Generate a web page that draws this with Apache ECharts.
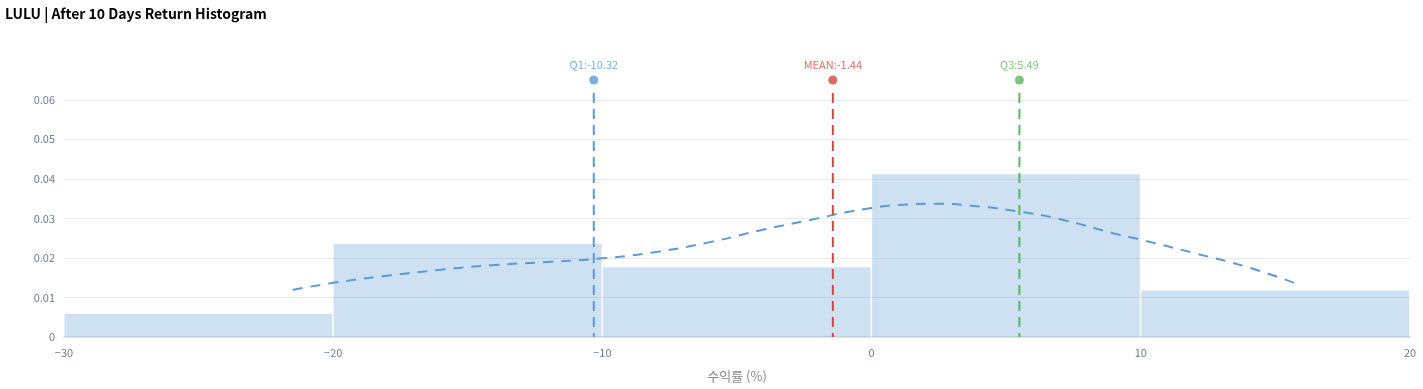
<!DOCTYPE html>
<html><head><meta charset="utf-8">
<script src="https://cdn.jsdelivr.net/npm/echarts@6/dist/echarts.min.js"></script>
<style>html,body{margin:0;padding:0;background:#fff}#c{width:1423px;height:389px}</style>
</head><body><div id="c"></div>
<script>
const title = 'LULU | After 10 Days Return Histogram';
const binStarts = [-30, -20, -10, 0, 10];
const binEnds = [-20, -10, 0, 10, 20];
const density = [0.00588, 0.02353, 0.01765, 0.04118, 0.01176];
const kdeX = [-21.5, -20, -18, -16, -14, -12, -10, -8, -6, -4, -2, -1, 0, 1, 2.5, 4, 5.5, 7, 9, 10, 12, 14, 15.7];
const kdeY = [0.0119, 0.0137, 0.0155, 0.0170, 0.0182, 0.0190, 0.0199, 0.0215, 0.0240, 0.0272, 0.0300, 0.0315, 0.0326, 0.0334, 0.0337, 0.0330, 0.0317, 0.0298, 0.0262, 0.0246, 0.0212, 0.0176, 0.0137];
const statNames = ['Q1', 'MEAN', 'Q3'];
const statValues = [-10.32, -1.44, 5.49];
const statColors = ['#5b9bd5', '#d9453f', '#5cb85c'];
const yMax = 0.065;
const statLineTop = 0.0617;

const chart = echarts.init(document.getElementById('c'));
const font = '"Noto Sans CJK KR", "Noto Sans", sans-serif';
const axisColor = '#6e7c99';
const series = [];
series.push({
  type: 'custom',
  silent: true,
  data: binStarts.map((s, i) => [s, binEnds[i], density[i]]),
  renderItem: function (params, api) {
    const p1 = api.coord([api.value(0), api.value(2)]);
    const p2 = api.coord([api.value(1), 0]);
    return {
      type: 'rect',
      shape: { x: p1[0] + 0.5, y: p1[1], width: p2[0] - p1[0] - 1.5, height: p2[1] - p1[1] },
      style: { fill: 'rgba(91,155,213,0.3)' }
    };
  },
  encode: { x: [0, 1], y: 2 },
  z: 1
});
series.push({
  type: 'line',
  data: kdeX.map((x, i) => [x, kdeY[i]]),
  smooth: true,
  showSymbol: false,
  lineStyle: { color: '#5b9bd5', width: 2, type: [10, 8] },
  z: 3
});
statValues.forEach((v, i) => {
  series.push({
    type: 'line',
    data: [[v, statLineTop], [v, 0]],
    showSymbol: false,
    lineStyle: { color: statColors[i], width: 2, type: [10, 6] },
    z: 4
  });
  series.push({
    type: 'scatter',
    data: [[v, yMax]],
    symbolSize: 9,
    itemStyle: { color: statColors[i] },
    label: {
      show: true, position: 'top', distance: 5,
      formatter: statNames[i] + ':' + v,
      color: statColors[i], fontSize: 11, fontFamily: font
    },
    z: 5
  });
});

chart.setOption({
  animation: false,
  title: {
    text: title, left: 0, top: 2,
    textStyle: { fontSize: 14, fontWeight: 'bold', color: '#000', fontFamily: font }
  },
  grid: { left: 64, right: 13, top: 80, bottom: 52 },
  xAxis: {
    type: 'value', min: -30, max: 20, interval: 10,
    name: '수익률 (%)', nameLocation: 'middle', nameGap: 33,
    nameTextStyle: { color: '#888', fontSize: 13, fontFamily: font },
    axisLine: { show: true, lineStyle: { color: '#e0e3ea', width: 2 } },
    axisTick: { show: false },
    splitLine: { show: false },
    axisLabel: { color: axisColor, fontSize: 11, fontFamily: font, margin: 10,
      formatter: v => (v < 0 ? '\u2212' + Math.abs(v) : String(v)) }
  },
  yAxis: {
    type: 'value', min: 0, max: yMax, interval: 0.01,
    axisLine: { show: false }, axisTick: { show: false },
    splitLine: { show: true, showMaxLine: false, lineStyle: { color: '#e6e8ee' } },
    axisLabel: { color: axisColor, fontSize: 11, fontFamily: font, margin: 9, showMaxLabel: false,
      formatter: v => (v > 0.0605 ? '' : String(+v.toFixed(2))) }
  },
  series: series
});
</script></body></html>
